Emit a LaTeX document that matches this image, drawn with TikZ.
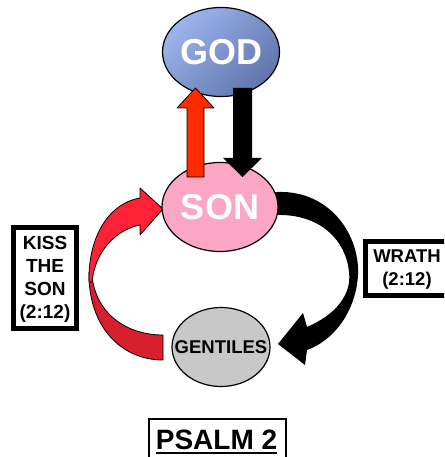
\documentclass[tikz,border=0pt]{standalone}
\usepackage{fontspec}
\setmainfont{Liberation Sans}
\usetikzlibrary{shapes.geometric}
\definecolor{godlight}{HTML}{9CB5EC}
\definecolor{godmid}{HTML}{8499D0}
\definecolor{goddark}{HTML}{6075AC}
\definecolor{sonpink}{HTML}{FBA6C4}
\definecolor{gentgray}{HTML}{C8C8C8}
\definecolor{uparrow}{HTML}{FF2A00}
\definecolor{curvetop}{HTML}{FF2236}
\definecolor{curvebot}{HTML}{D71F2D}
\tikzset{
  blob/.style={ellipse, draw=black, line width=1.2pt, inner sep=0pt},
  bigtext/.style={font=\fontsize{36}{40}\selectfont\bfseries, text=white},
  labtext/.style={font=\fontsize{19}{23}\selectfont\bfseries, align=center, inner sep=0pt},
  thickbox/.style={draw=black, line width=5pt},
  shape outline/.style={draw=black, line width=0.8pt, line join=round}
}
\begin{document}
\begin{tikzpicture}[x=1pt, y=-1pt]
\clip (0,0) rectangle (444,457);
\fill[white] (0,0) rectangle (444,457);

% curved red arrow (Kiss the Son)
\filldraw[shape outline, fill=curvebot] (89,272) .. controls (88,325) and (120,360) .. (163,360) -- (163,335) .. controls (125,335) and (95,312) .. (92,275) -- cycle;
\filldraw[shape outline, fill=curvetop] (89,282) .. controls (88,235) and (110,203) .. (140,198) -- (140,188) -- (163,209) -- (140,235) -- (140,225) .. controls (115,230) and (95,252) .. (92,282) -- cycle;

% curved black arrow (Wrath)
\fill[black] (268,192) -- (277,192) .. controls (330,190) and (360,235) .. (358,275) .. controls (356,310) and (335,340) .. (307,350) -- (305,365) -- (278,344) -- (303,313) -- (307,327) .. controls (335,315) and (352,295) .. (349,272) .. controls (346,240) and (320,214) .. (277,215) -- (268,215) -- cycle;

% ellipses
\node[blob, minimum width=117pt, minimum height=89pt, top color=godlight, middle color=godmid, bottom color=goddark, shading angle=45] (god) at (221,52) {};
\node[bigtext] at (god.center) {GOD};
\node[blob, minimum width=116pt, minimum height=89pt, fill=sonpink] (son) at (220,207) {};
\node[bigtext] at (son.center) {SON};
\node[blob, minimum width=98pt, minimum height=79pt, fill=gentgray] (gent) at (221,347) {};
\node[font=\fontsize{18.5}{20}\selectfont\bfseries, inner sep=0pt] at (gent.center) {GENTILES};

% straight arrows
\filldraw[shape outline, fill=uparrow] (187,177) -- (204,177) -- (204,108) -- (214,108) -- (195.5,88) -- (177,108) -- (187,108) -- cycle;
\fill[black] (233,88) -- (252,88) -- (252,158) -- (262,158) -- (242.5,177) -- (223,158) -- (233,158) -- cycle;

% label boxes
\draw[thickbox] (13.5,227.5) rectangle (76.5,328.5);
\node[labtext] (kiss) at (45,279) {KISS\\THE\\SON\\(2:12)};
\draw[thickbox] (365.5,241.5) rectangle (449,295);
\node[labtext, font=\fontsize{18.5}{23}\selectfont\bfseries] (wrath) at (407,270) {WRATH\\(2:12)};

% title
\draw[draw=black, line width=2pt] (149,419) rectangle (286,470);
\node[font=\fontsize{28}{30}\selectfont\bfseries, inner sep=0pt, anchor=base] (ps) at (216.5,449) {PSALM 2};
\draw[line width=2.5pt] ([yshift=-4pt]ps.base west) -- ([yshift=-4pt]ps.base east);
\end{tikzpicture}
\end{document}
